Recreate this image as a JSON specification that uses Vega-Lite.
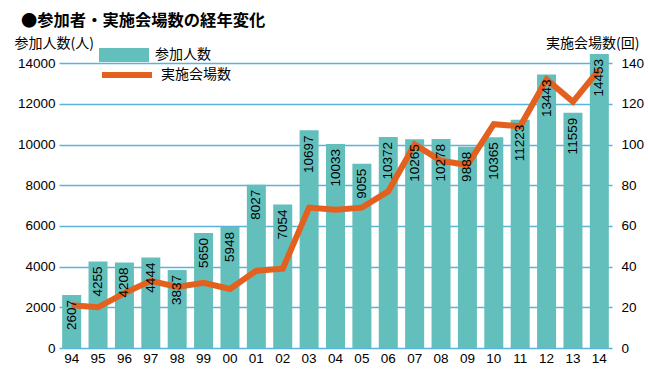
{
  "$schema": "https://vega.github.io/schema/vega-lite/v6.json",
  "autosize": "none",
  "width": 553,
  "height": 295,
  "padding": {"left": 59, "top": 53, "right": 36, "bottom": 27},
  "background": "white",
  "title": {
    "text": "●参加者・実施会場数の経年変化",
    "anchor": "start",
    "frame": "group",
    "font": "Noto Sans CJK JP",
    "fontSize": 16.3,
    "fontWeight": "bold",
    "color": "#000000",
    "dx": -38,
    "offset": -7,
    "baseline": "middle"
  },
  "data": {
    "values": [
      {"year": "94", "people": 2607, "venues": 21},
      {"year": "95", "people": 4255, "venues": 20},
      {"year": "96", "people": 4208, "venues": 27},
      {"year": "97", "people": 4444, "venues": 33},
      {"year": "98", "people": 3837, "venues": 30},
      {"year": "99", "people": 5650, "venues": 32},
      {"year": "00", "people": 5948, "venues": 29},
      {"year": "01", "people": 8027, "venues": 38},
      {"year": "02", "people": 7054, "venues": 39},
      {"year": "03", "people": 10697, "venues": 69},
      {"year": "04", "people": 10033, "venues": 68},
      {"year": "05", "people": 9055, "venues": 69},
      {"year": "06", "people": 10372, "venues": 77},
      {"year": "07", "people": 10265, "venues": 100},
      {"year": "08", "people": 10278, "venues": 92},
      {"year": "09", "people": 9888, "venues": 90},
      {"year": "10", "people": 10365, "venues": 110},
      {"year": "11", "people": 11223, "venues": 109},
      {"year": "12", "people": 13443, "venues": 132},
      {"year": "13", "people": 11559, "venues": 121},
      {"year": "14", "people": 14453, "venues": 137}
    ]
  },
  "encoding": {
    "x": {
      "field": "year",
      "type": "nominal",
      "sort": null,
      "scale": {"paddingInner": 0.28, "paddingOuter": 0.12},
      "axis": {
        "title": null,
        "labelAngle": 0,
        "labelFont": "Liberation Sans",
        "labelFontSize": 13.5,
        "labelColor": "#000000",
        "labelPadding": 3,
        "domain": false,
        "ticks": false
      }
    }
  },
  "layer": [
    {
      "mark": {"type": "bar"},
      "encoding": {
        "y": {
          "field": "people",
          "type": "quantitative",
          "scale": {"domain": [0, 14500], "nice": false},
          "axis": {
            "title": "参加人数(人)",
            "titleFont": "Noto Sans CJK JP",
            "titleFontSize": 14,
            "titleFontWeight": "normal",
            "titleColor": "#000000",
            "titleAngle": 0,
            "titleAlign": "left",
            "titleBaseline": "middle",
            "titleX": -45,
            "titleY": -10,
            "values": [0, 2000, 4000, 6000, 8000, 10000, 12000, 14000],
            "format": "d",
            "labelFont": "Liberation Sans",
            "labelFontSize": 13.5,
            "labelColor": "#000000",
            "labelPadding": 4,
            "domain": false,
            "ticks": false,
            "grid": true,
            "gridColor": "#5ab4da",
            "gridWidth": 1.3,
            "gridOpacity": 1
          }
        },
        "fill": {
          "datum": "参加人数",
          "scale": {"range": ["#62bfbc"]},
          "legend": {
            "orient": "none",
            "legendX": 40,
            "legendY": -23,
            "title": null,
            "symbolType": "M-1,-0.28H1V0.28H-1Z",
            "symbolSize": 2500,
            "symbolStrokeWidth": 0,
            "symbolOpacity": 1,
            "labelFont": "Noto Sans CJK JP",
            "labelFontSize": 14,
            "labelColor": "#000000",
            "labelOffset": 6
          }
        }
      }
    },
    {
      "mark": {"type": "line", "strokeWidth": 6, "strokeJoin": "miter"},
      "encoding": {
        "y": {
          "field": "venues",
          "type": "quantitative",
          "scale": {"domain": [0, 145], "nice": false},
          "axis": {
            "orient": "right",
            "title": "実施会場数(回)",
            "titleFont": "Noto Sans CJK JP",
            "titleFontSize": 14,
            "titleFontWeight": "normal",
            "titleColor": "#000000",
            "titleAngle": 0,
            "titleAlign": "right",
            "titleBaseline": "middle",
            "titleX": 27,
            "titleY": -10,
            "values": [0, 20, 40, 60, 80, 100, 120, 140],
            "labelFont": "Liberation Sans",
            "labelFontSize": 13.5,
            "labelColor": "#000000",
            "labelPadding": 9,
            "domain": false,
            "ticks": false,
            "grid": false
          }
        },
        "stroke": {
          "datum": "実施会場数",
          "scale": {"range": ["#e4601e"]},
          "legend": {
            "orient": "none",
            "legendX": 40,
            "legendY": -6,
            "title": null,
            "symbolType": "stroke",
            "symbolSize": 2500,
            "symbolStrokeWidth": 6,
            "labelFont": "Noto Sans CJK JP",
            "labelFontSize": 14,
            "labelColor": "#000000",
            "labelOffset": 6
          }
        }
      }
    },
    {
      "mark": {
        "type": "text",
        "angle": 270,
        "align": "right",
        "baseline": "middle",
        "dx": -5,
        "font": "Liberation Sans",
        "fontSize": 13.5,
        "color": "#000000"
      },
      "encoding": {
        "y": {
          "field": "people",
          "type": "quantitative",
          "scale": {"domain": [0, 14500], "nice": false},
          "axis": null
        },
        "text": {"field": "people", "type": "quantitative", "format": "d"}
      }
    }
  ],
  "resolve": {"scale": {"y": "independent", "fill": "independent", "stroke": "independent"}},
  "config": {
    "view": {"stroke": null}
  }
}
